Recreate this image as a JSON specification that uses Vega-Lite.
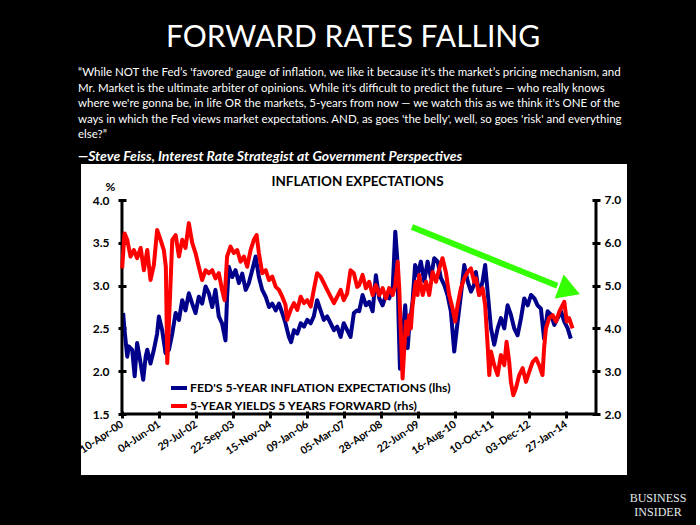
{
  "$schema": "https://vega.github.io/schema/vega-lite/v6.json",
  "background": "#000000",
  "padding": {"left": 77, "top": 23, "right": 10, "bottom": 10},
  "title": {"text": "FORWARD RATES FALLING", "anchor": "start", "dx": 88, "color": "#ffffff", "font": "Lato", "fontSize": 30, "fontWeight": "normal", "offset": 14, "baseline": "top"},
  "datasets": {
    "series": [
      {"d": "2000-04-23", "s": "fed", "v": 2.68}, {"d": "2000-05-09", "s": "fed", "v": 2.48}, {"d": "2000-06-09", "s": "fed", "v": 2.17}, {"d": "2000-06-27", "s": "fed", "v": 2.29},
      {"d": "2000-08-04", "s": "fed", "v": 2.25}, {"d": "2000-09-01", "s": "fed", "v": 1.94}, {"d": "2000-09-29", "s": "fed", "v": 2.33}, {"d": "2000-11-08", "s": "fed", "v": 2.09},
      {"d": "2000-12-07", "s": "fed", "v": 1.90}, {"d": "2001-01-04", "s": "fed", "v": 2.17}, {"d": "2001-01-22", "s": "fed", "v": 2.25}, {"d": "2001-02-28", "s": "fed", "v": 2.09},
      {"d": "2001-04-07", "s": "fed", "v": 2.25}, {"d": "2001-05-14", "s": "fed", "v": 2.44}, {"d": "2001-06-03", "s": "fed", "v": 2.64}, {"d": "2001-07-10", "s": "fed", "v": 2.48},
      {"d": "2001-08-18", "s": "fed", "v": 2.21}, {"d": "2001-09-25", "s": "fed", "v": 2.25}, {"d": "2001-11-02", "s": "fed", "v": 2.44}, {"d": "2001-12-10", "s": "fed", "v": 2.68},
      {"d": "2002-01-17", "s": "fed", "v": 2.60}, {"d": "2002-02-23", "s": "fed", "v": 2.83}, {"d": "2002-04-01", "s": "fed", "v": 2.71}, {"d": "2002-05-09", "s": "fed", "v": 2.91},
      {"d": "2002-06-16", "s": "fed", "v": 2.79}, {"d": "2002-07-24", "s": "fed", "v": 2.68}, {"d": "2002-08-30", "s": "fed", "v": 2.87}, {"d": "2002-10-07", "s": "fed", "v": 2.79},
      {"d": "2002-11-15", "s": "fed", "v": 2.99}, {"d": "2002-12-22", "s": "fed", "v": 2.91}, {"d": "2003-01-29", "s": "fed", "v": 2.75}, {"d": "2003-03-07", "s": "fed", "v": 2.95},
      {"d": "2003-04-14", "s": "fed", "v": 2.64}, {"d": "2003-05-21", "s": "fed", "v": 2.56}, {"d": "2003-06-29", "s": "fed", "v": 2.36}, {"d": "2003-07-17", "s": "fed", "v": 2.87},
      {"d": "2003-08-06", "s": "fed", "v": 3.22}, {"d": "2003-09-13", "s": "fed", "v": 3.10}, {"d": "2003-10-21", "s": "fed", "v": 3.18}, {"d": "2003-11-28", "s": "fed", "v": 3.03},
      {"d": "2004-01-05", "s": "fed", "v": 3.14}, {"d": "2004-02-13", "s": "fed", "v": 2.95}, {"d": "2004-03-20", "s": "fed", "v": 3.03}, {"d": "2004-04-27", "s": "fed", "v": 3.18},
      {"d": "2004-06-05", "s": "fed", "v": 3.34}, {"d": "2004-07-12", "s": "fed", "v": 3.10}, {"d": "2004-08-19", "s": "fed", "v": 2.95}, {"d": "2004-09-27", "s": "fed", "v": 2.87},
      {"d": "2004-11-04", "s": "fed", "v": 2.75}, {"d": "2004-12-11", "s": "fed", "v": 2.79}, {"d": "2005-01-19", "s": "fed", "v": 2.71}, {"d": "2005-02-25", "s": "fed", "v": 2.79},
      {"d": "2005-04-03", "s": "fed", "v": 2.68}, {"d": "2005-05-10", "s": "fed", "v": 2.56}, {"d": "2005-06-18", "s": "fed", "v": 2.40}, {"d": "2005-07-13", "s": "fed", "v": 2.34},
      {"d": "2005-08-14", "s": "fed", "v": 2.48}, {"d": "2005-09-21", "s": "fed", "v": 2.44}, {"d": "2005-10-29", "s": "fed", "v": 2.56}, {"d": "2005-12-06", "s": "fed", "v": 2.52},
      {"d": "2006-01-12", "s": "fed", "v": 2.60}, {"d": "2006-02-20", "s": "fed", "v": 2.56}, {"d": "2006-03-27", "s": "fed", "v": 2.64}, {"d": "2006-05-04", "s": "fed", "v": 2.83},
      {"d": "2006-06-12", "s": "fed", "v": 2.71}, {"d": "2006-07-19", "s": "fed", "v": 2.60}, {"d": "2006-08-26", "s": "fed", "v": 2.64}, {"d": "2006-10-04", "s": "fed", "v": 2.56},
      {"d": "2006-11-11", "s": "fed", "v": 2.48}, {"d": "2006-12-18", "s": "fed", "v": 2.52}, {"d": "2007-01-26", "s": "fed", "v": 2.40}, {"d": "2007-03-02", "s": "fed", "v": 2.56},
      {"d": "2007-04-10", "s": "fed", "v": 2.48}, {"d": "2007-05-18", "s": "fed", "v": 2.40}, {"d": "2007-06-25", "s": "fed", "v": 2.68}, {"d": "2007-08-01", "s": "fed", "v": 2.71},
      {"d": "2007-08-24", "s": "fed", "v": 2.70}, {"d": "2007-10-02", "s": "fed", "v": 2.89}, {"d": "2007-11-09", "s": "fed", "v": 2.77}, {"d": "2007-12-16", "s": "fed", "v": 2.81},
      {"d": "2008-01-24", "s": "fed", "v": 2.70}, {"d": "2008-03-01", "s": "fed", "v": 3.12}, {"d": "2008-04-08", "s": "fed", "v": 2.85}, {"d": "2008-05-16", "s": "fed", "v": 2.77},
      {"d": "2008-06-23", "s": "fed", "v": 2.89}, {"d": "2008-07-30", "s": "fed", "v": 2.85}, {"d": "2008-09-08", "s": "fed", "v": 2.97}, {"d": "2008-10-07", "s": "fed", "v": 3.63},
      {"d": "2008-10-29", "s": "fed", "v": 3.32}, {"d": "2008-11-14", "s": "fed", "v": 2.58}, {"d": "2008-11-29", "s": "fed", "v": 2.03}, {"d": "2008-12-29", "s": "fed", "v": 2.42},
      {"d": "2009-01-28", "s": "fed", "v": 2.77}, {"d": "2009-02-25", "s": "fed", "v": 2.27}, {"d": "2009-03-13", "s": "fed", "v": 2.50}, {"d": "2009-04-21", "s": "fed", "v": 2.81},
      {"d": "2009-05-20", "s": "fed", "v": 3.24}, {"d": "2009-06-17", "s": "fed", "v": 3.12}, {"d": "2009-07-24", "s": "fed", "v": 3.28}, {"d": "2009-09-01", "s": "fed", "v": 3.05},
      {"d": "2009-10-09", "s": "fed", "v": 3.28}, {"d": "2009-11-16", "s": "fed", "v": 3.09}, {"d": "2009-12-23", "s": "fed", "v": 3.32}, {"d": "2010-02-01", "s": "fed", "v": 3.28},
      {"d": "2010-03-08", "s": "fed", "v": 3.09}, {"d": "2010-04-15", "s": "fed", "v": 3.01}, {"d": "2010-05-23", "s": "fed", "v": 2.89}, {"d": "2010-06-30", "s": "fed", "v": 2.70},
      {"d": "2010-08-07", "s": "fed", "v": 2.23}, {"d": "2010-09-15", "s": "fed", "v": 2.58}, {"d": "2010-10-22", "s": "fed", "v": 2.89}, {"d": "2010-11-29", "s": "fed", "v": 3.24},
      {"d": "2011-01-07", "s": "fed", "v": 3.05}, {"d": "2011-02-13", "s": "fed", "v": 2.93}, {"d": "2011-03-21", "s": "fed", "v": 3.01}, {"d": "2011-04-10", "s": "fed", "v": 3.16},
      {"d": "2011-05-17", "s": "fed", "v": 2.89}, {"d": "2011-06-25", "s": "fed", "v": 3.05}, {"d": "2011-07-24", "s": "fed", "v": 3.24}, {"d": "2011-08-21", "s": "fed", "v": 2.93},
      {"d": "2011-09-28", "s": "fed", "v": 2.50}, {"d": "2011-11-04", "s": "fed", "v": 2.31}, {"d": "2011-12-13", "s": "fed", "v": 2.50}, {"d": "2012-01-19", "s": "fed", "v": 2.62},
      {"d": "2012-02-26", "s": "fed", "v": 2.50}, {"d": "2012-04-04", "s": "fed", "v": 2.77}, {"d": "2012-05-11", "s": "fed", "v": 2.66}, {"d": "2012-06-18", "s": "fed", "v": 2.50},
      {"d": "2012-07-26", "s": "fed", "v": 2.42}, {"d": "2012-09-03", "s": "fed", "v": 2.62}, {"d": "2012-10-10", "s": "fed", "v": 2.85}, {"d": "2012-11-18", "s": "fed", "v": 2.77},
      {"d": "2012-12-25", "s": "fed", "v": 2.89}, {"d": "2013-02-02", "s": "fed", "v": 2.85}, {"d": "2013-03-10", "s": "fed", "v": 2.77}, {"d": "2013-04-17", "s": "fed", "v": 2.73},
      {"d": "2013-05-23", "s": "fed", "v": 2.38}, {"d": "2013-07-02", "s": "fed", "v": 2.70}, {"d": "2013-08-09", "s": "fed", "v": 2.66}, {"d": "2013-09-16", "s": "fed", "v": 2.54},
      {"d": "2013-10-24", "s": "fed", "v": 2.62}, {"d": "2013-12-01", "s": "fed", "v": 2.70}, {"d": "2014-01-07", "s": "fed", "v": 2.58}, {"d": "2014-02-15", "s": "fed", "v": 2.50},
      {"d": "2014-03-22", "s": "fed", "v": 2.38},
      {"d": "2000-04-12", "s": "fwd", "v": 5.40}, {"d": "2000-05-09", "s": "fwd", "v": 6.22}, {"d": "2000-06-09", "s": "fwd", "v": 6.07}, {"d": "2000-07-16", "s": "fwd", "v": 5.68},
      {"d": "2000-08-23", "s": "fwd", "v": 5.83}, {"d": "2000-09-29", "s": "fwd", "v": 5.64}, {"d": "2000-11-08", "s": "fwd", "v": 5.88}, {"d": "2000-12-15", "s": "fwd", "v": 5.36},
      {"d": "2001-01-22", "s": "fwd", "v": 5.83}, {"d": "2001-02-28", "s": "fwd", "v": 5.13}, {"d": "2001-04-07", "s": "fwd", "v": 5.48}, {"d": "2001-05-14", "s": "fwd", "v": 6.30},
      {"d": "2001-06-22", "s": "fwd", "v": 6.07}, {"d": "2001-07-29", "s": "fwd", "v": 5.83}, {"d": "2001-08-21", "s": "fwd", "v": 5.44}, {"d": "2001-09-06", "s": "fwd", "v": 3.19},
      {"d": "2001-09-25", "s": "fwd", "v": 4.12}, {"d": "2001-11-02", "s": "fwd", "v": 6.07}, {"d": "2001-12-10", "s": "fwd", "v": 6.18}, {"d": "2002-01-17", "s": "fwd", "v": 5.68},
      {"d": "2002-02-23", "s": "fwd", "v": 6.07}, {"d": "2002-04-01", "s": "fwd", "v": 5.88}, {"d": "2002-05-09", "s": "fwd", "v": 6.46}, {"d": "2002-06-16", "s": "fwd", "v": 6.00},
      {"d": "2002-07-24", "s": "fwd", "v": 5.76}, {"d": "2002-08-30", "s": "fwd", "v": 5.44}, {"d": "2002-10-07", "s": "fwd", "v": 5.13}, {"d": "2002-11-15", "s": "fwd", "v": 5.36},
      {"d": "2002-12-22", "s": "fwd", "v": 5.29}, {"d": "2003-01-29", "s": "fwd", "v": 5.36}, {"d": "2003-03-07", "s": "fwd", "v": 5.17}, {"d": "2003-04-14", "s": "fwd", "v": 5.29},
      {"d": "2003-05-21", "s": "fwd", "v": 4.90}, {"d": "2003-06-18", "s": "fwd", "v": 4.66}, {"d": "2003-07-17", "s": "fwd", "v": 5.68}, {"d": "2003-08-25", "s": "fwd", "v": 5.91},
      {"d": "2003-10-02", "s": "fwd", "v": 5.76}, {"d": "2003-11-09", "s": "fwd", "v": 5.83}, {"d": "2003-12-17", "s": "fwd", "v": 5.56}, {"d": "2004-01-24", "s": "fwd", "v": 5.68},
      {"d": "2004-03-01", "s": "fwd", "v": 5.44}, {"d": "2004-04-09", "s": "fwd", "v": 5.83}, {"d": "2004-05-16", "s": "fwd", "v": 6.07}, {"d": "2004-06-16", "s": "fwd", "v": 6.18},
      {"d": "2004-07-12", "s": "fwd", "v": 5.76}, {"d": "2004-08-19", "s": "fwd", "v": 5.29}, {"d": "2004-09-27", "s": "fwd", "v": 5.36}, {"d": "2004-11-04", "s": "fwd", "v": 5.13},
      {"d": "2004-12-11", "s": "fwd", "v": 5.21}, {"d": "2005-01-19", "s": "fwd", "v": 4.97}, {"d": "2005-02-25", "s": "fwd", "v": 4.90}, {"d": "2005-04-03", "s": "fwd", "v": 4.74},
      {"d": "2005-05-10", "s": "fwd", "v": 4.55}, {"d": "2005-05-28", "s": "fwd", "v": 4.20}, {"d": "2005-07-07", "s": "fwd", "v": 4.43}, {"d": "2005-08-14", "s": "fwd", "v": 4.59},
      {"d": "2005-09-21", "s": "fwd", "v": 4.43}, {"d": "2005-10-29", "s": "fwd", "v": 4.74}, {"d": "2005-12-06", "s": "fwd", "v": 4.59}, {"d": "2006-01-12", "s": "fwd", "v": 4.66},
      {"d": "2006-02-20", "s": "fwd", "v": 4.51}, {"d": "2006-03-27", "s": "fwd", "v": 4.90}, {"d": "2006-05-04", "s": "fwd", "v": 5.29}, {"d": "2006-06-12", "s": "fwd", "v": 5.21},
      {"d": "2006-07-19", "s": "fwd", "v": 5.06}, {"d": "2006-08-26", "s": "fwd", "v": 4.90}, {"d": "2006-10-04", "s": "fwd", "v": 4.74}, {"d": "2006-11-11", "s": "fwd", "v": 4.59},
      {"d": "2006-12-18", "s": "fwd", "v": 4.74}, {"d": "2007-01-26", "s": "fwd", "v": 4.90}, {"d": "2007-03-02", "s": "fwd", "v": 4.66}, {"d": "2007-04-10", "s": "fwd", "v": 4.82},
      {"d": "2007-05-18", "s": "fwd", "v": 5.36}, {"d": "2007-06-25", "s": "fwd", "v": 5.29}, {"d": "2007-08-01", "s": "fwd", "v": 4.97}, {"d": "2007-08-24", "s": "fwd", "v": 5.01},
      {"d": "2007-10-02", "s": "fwd", "v": 5.25}, {"d": "2007-11-09", "s": "fwd", "v": 4.94}, {"d": "2007-12-16", "s": "fwd", "v": 5.09}, {"d": "2008-01-24", "s": "fwd", "v": 4.78},
      {"d": "2008-03-01", "s": "fwd", "v": 5.01}, {"d": "2008-04-08", "s": "fwd", "v": 4.78}, {"d": "2008-05-16", "s": "fwd", "v": 4.94}, {"d": "2008-06-23", "s": "fwd", "v": 4.70},
      {"d": "2008-07-30", "s": "fwd", "v": 4.94}, {"d": "2008-09-08", "s": "fwd", "v": 4.78}, {"d": "2008-10-07", "s": "fwd", "v": 5.01}, {"d": "2008-11-03", "s": "fwd", "v": 5.56},
      {"d": "2008-11-21", "s": "fwd", "v": 4.94}, {"d": "2008-12-10", "s": "fwd", "v": 3.85}, {"d": "2008-12-29", "s": "fwd", "v": 2.83}, {"d": "2009-01-17", "s": "fwd", "v": 3.54},
      {"d": "2009-02-06", "s": "fwd", "v": 4.16}, {"d": "2009-02-25", "s": "fwd", "v": 3.85}, {"d": "2009-03-13", "s": "fwd", "v": 4.31}, {"d": "2009-04-02", "s": "fwd", "v": 4.00},
      {"d": "2009-04-21", "s": "fwd", "v": 4.55}, {"d": "2009-05-28", "s": "fwd", "v": 5.09}, {"d": "2009-06-17", "s": "fwd", "v": 4.78}, {"d": "2009-07-05", "s": "fwd", "v": 5.25},
      {"d": "2009-08-14", "s": "fwd", "v": 4.78}, {"d": "2009-09-21", "s": "fwd", "v": 5.09}, {"d": "2009-10-27", "s": "fwd", "v": 4.78}, {"d": "2009-12-05", "s": "fwd", "v": 5.32},
      {"d": "2010-01-12", "s": "fwd", "v": 5.09}, {"d": "2010-02-19", "s": "fwd", "v": 5.40}, {"d": "2010-03-27", "s": "fwd", "v": 5.64}, {"d": "2010-05-04", "s": "fwd", "v": 5.32},
      {"d": "2010-06-11", "s": "fwd", "v": 4.78}, {"d": "2010-07-19", "s": "fwd", "v": 4.47}, {"d": "2010-08-18", "s": "fwd", "v": 4.16}, {"d": "2010-09-15", "s": "fwd", "v": 4.55},
      {"d": "2010-10-22", "s": "fwd", "v": 4.94}, {"d": "2010-11-29", "s": "fwd", "v": 5.17}, {"d": "2011-01-07", "s": "fwd", "v": 5.32}, {"d": "2011-02-13", "s": "fwd", "v": 5.40},
      {"d": "2011-03-21", "s": "fwd", "v": 5.09}, {"d": "2011-04-10", "s": "fwd", "v": 5.17}, {"d": "2011-05-17", "s": "fwd", "v": 4.78}, {"d": "2011-06-25", "s": "fwd", "v": 4.94},
      {"d": "2011-07-24", "s": "fwd", "v": 4.55}, {"d": "2011-08-21", "s": "fwd", "v": 3.61}, {"d": "2011-09-09", "s": "fwd", "v": 2.91}, {"d": "2011-09-28", "s": "fwd", "v": 3.46},
      {"d": "2011-11-04", "s": "fwd", "v": 3.14}, {"d": "2011-12-13", "s": "fwd", "v": 2.91}, {"d": "2012-01-19", "s": "fwd", "v": 3.38}, {"d": "2012-02-26", "s": "fwd", "v": 3.14},
      {"d": "2012-03-23", "s": "fwd", "v": 3.69}, {"d": "2012-04-22", "s": "fwd", "v": 3.22}, {"d": "2012-05-11", "s": "fwd", "v": 2.75}, {"d": "2012-06-07", "s": "fwd", "v": 2.44},
      {"d": "2012-07-07", "s": "fwd", "v": 2.60}, {"d": "2012-08-14", "s": "fwd", "v": 2.91}, {"d": "2012-09-22", "s": "fwd", "v": 3.07}, {"d": "2012-10-29", "s": "fwd", "v": 2.75},
      {"d": "2012-12-06", "s": "fwd", "v": 2.99}, {"d": "2013-01-14", "s": "fwd", "v": 3.22}, {"d": "2013-02-21", "s": "fwd", "v": 3.30}, {"d": "2013-03-28", "s": "fwd", "v": 3.14},
      {"d": "2013-05-05", "s": "fwd", "v": 2.91}, {"d": "2013-05-23", "s": "fwd", "v": 3.54}, {"d": "2013-06-13", "s": "fwd", "v": 4.00}, {"d": "2013-07-19", "s": "fwd", "v": 4.24},
      {"d": "2013-08-28", "s": "fwd", "v": 4.31}, {"d": "2013-10-05", "s": "fwd", "v": 4.16}, {"d": "2013-11-12", "s": "fwd", "v": 4.39}, {"d": "2013-12-20", "s": "fwd", "v": 4.55},
      {"d": "2014-01-07", "s": "fwd", "v": 4.62}, {"d": "2014-02-04", "s": "fwd", "v": 4.16}, {"d": "2014-03-03", "s": "fwd", "v": 4.24}, {"d": "2014-04-11", "s": "fwd", "v": 4.00}
    ]
  },
  "vconcat": [
    {
      "width": 546,
      "height": 311,
      "view": {"fill": "#ffffff", "stroke": null},
      "title": {
        "text": [
          "“While NOT the Fed’s 'favored' gauge of inflation, we like it because it's the market’s pricing mechanism, and",
          "Mr. Market is the ultimate arbiter of opinions. While it's difficult to predict the future — who really knows",
          "where we're gonna be, in life OR the markets, 5-years from now — we watch this as we think it's ONE of the",
          "ways in which the Fed views market expectations. AND, as goes 'the belly', well, so goes 'risk' and everything",
          "else?”"
        ],
        "subtitle": "—Steve Feiss, Interest Rate Strategist at Government Perspectives",
        "anchor": "start",
        "align": "left",
        "baseline": "top",
        "color": "#ffffff",
        "font": "Lato",
        "fontSize": 11.5,
        "fontWeight": "normal",
        "lineHeight": 15.6,
        "subtitleColor": "#ffffff",
        "subtitleFont": "Lato",
        "subtitleFontSize": 14,
        "subtitleFontStyle": "italic",
        "subtitleFontWeight": "bold",
        "subtitlePadding": 9,
        "offset": 0
      },
      "data": {"name": "series"},
      "resolve": {"scale": {"y": "independent"}},
      "layer": [
        {
          "layer": [
            {
              "transform": [{"filter": "datum.s == 'fed'"}],
              "mark": {"type": "line", "strokeWidth": 4, "strokeJoin": "round"},
              "encoding": {
                "x": {
                  "field": "d", "type": "temporal",
                  "scale": {"type": "utc", "nice": false, "domain": [{"year": 1999, "month": 1, "date": 1, "utc": true}, {"year": 2015, "month": 12, "date": 20, "utc": true}]},
                  "axis": {
                    "orient": "bottom", "offset": -64, "domain": false, "grid": false,
                    "values": [
                      {"year": 2000, "month": 4, "date": 10, "utc": true}, {"year": 2001, "month": 6, "date": 4, "utc": true},
                      {"year": 2002, "month": 7, "date": 29, "utc": true}, {"year": 2003, "month": 9, "date": 22, "utc": true},
                      {"year": 2004, "month": 11, "date": 15, "utc": true}, {"year": 2006, "month": 1, "date": 9, "utc": true},
                      {"year": 2007, "month": 3, "date": 5, "utc": true}, {"year": 2008, "month": 4, "date": 28, "utc": true},
                      {"year": 2009, "month": 6, "date": 22, "utc": true}, {"year": 2010, "month": 8, "date": 16, "utc": true},
                      {"year": 2011, "month": 10, "date": 10, "utc": true}, {"year": 2012, "month": 12, "date": 3, "utc": true},
                      {"year": 2014, "month": 1, "date": 27, "utc": true}
                    ],
                    "labelExpr": "utcFormat(datum.value, '%d-%b-%y')",
                    "ticks": true, "tickSize": 7, "tickWidth": 3, "tickColor": "#000000",
                    "labelAngle": -34, "labelAlign": "right", "labelBaseline": "middle", "labelPadding": 5,
                    "labelFont": "Lato", "labelFontSize": 10.6, "labelFontWeight": "bold", "labelColor": "#000000",
                    "labelOverlap": false, "labelFlush": false, "labelBound": false,
                    "title": "INFLATION EXPECTATIONS", "titleX": 276, "titleY": -226, "titleAlign": "center", "titleBaseline": "alphabetic",
                    "titleFont": "Lato", "titleFontSize": 13.5, "titleFontWeight": "bold", "titleColor": "#000000"
                  }
                },
                "y": {
                  "field": "v", "type": "quantitative",
                  "scale": {"domain": [0.7874, 4.4206], "nice": false, "zero": false},
                  "axis": {
                    "orient": "left", "offset": -45, "domain": false, "grid": false,
                    "values": [1.5, 2.0, 2.5, 3.0, 3.5, 4.0], "format": ".1f",
                    "tickSize": 8, "tickWidth": 3, "tickColor": "#000000",
                    "labelFont": "Lato", "labelFontSize": 12, "labelFontWeight": "bold", "labelColor": "#000000", "labelPadding": 9,
                    "labelFlush": false, "labelOverlap": false,
                    "title": "%", "titleAngle": 0, "titleX": -16, "titleY": 26, "titleAlign": "center", "titleBaseline": "alphabetic",
                    "titleFont": "Lato", "titleFontSize": 12, "titleFontWeight": "bold", "titleColor": "#000000"
                  }
                },
                "color": {
                  "field": "s", "type": "nominal",
                  "scale": {"domain": ["fed", "fwd"], "range": ["#00008b", "#ff0000"]},
                  "legend": {
                    "orient": "none", "legendX": 88, "legendY": 214, "title": null, "direction": "vertical",
                    "symbolType": "stroke", "symbolStrokeWidth": 4, "symbolSize": 256, "padding": 0, "rowPadding": 0, "labelOffset": 1,
                    "labelFont": "Lato", "labelFontSize": 12.2, "labelFontWeight": "bold", "labelColor": "#000000", "labelLimit": 0,
                    "labelExpr": "datum.label == 'fed' ? \"FED'S 5-YEAR INFLATION EXPECTATIONS (lhs)\" : '5-YEAR YIELDS 5 YEARS FORWARD (rhs)'"
                  }
                }
              }
            },
            {
              "data": {"values": [{}]},
              "mark": {"type": "rule", "strokeWidth": 3, "color": "#000000"},
              "encoding": {
                "x": {"datum": {"year": 2000, "month": 4, "date": 10, "utc": true}, "type": "temporal"},
                "y": {"datum": 1.5, "type": "quantitative"},
                "y2": {"datum": 4.0}
              }
            },
            {
              "data": {"values": [{}]},
              "mark": {"type": "rule", "strokeWidth": 3, "color": "#000000"},
              "encoding": {
                "x": {"datum": {"year": 2015, "month": 1, "date": 2, "utc": true}, "type": "temporal"},
                "y": {"datum": 1.5, "type": "quantitative"},
                "y2": {"datum": 4.0}
              }
            },
            {
              "data": {"values": [{}]},
              "mark": {"type": "rule", "strokeWidth": 3, "color": "#000000"},
              "encoding": {
                "x": {"datum": {"year": 2000, "month": 4, "date": 10, "utc": true}, "type": "temporal"},
                "x2": {"datum": {"year": 2015, "month": 1, "date": 2, "utc": true}},
                "y": {"datum": 1.5, "type": "quantitative"}
              }
            }
          ]
        },
        {
          "layer": [
            {
              "transform": [{"filter": "datum.s == 'fwd'"}],
              "mark": {"type": "line", "strokeWidth": 4, "strokeJoin": "round"},
              "encoding": {
                "x": {"field": "d", "type": "temporal"},
                "y": {
                  "field": "v", "type": "quantitative",
                  "scale": {"domain": [0.5748, 7.841], "nice": false, "zero": false},
                  "axis": {
                    "orient": "right", "offset": -35, "domain": false, "grid": false,
                    "values": [2, 3, 4, 5, 6, 7], "format": ".1f",
                    "tickSize": 8, "tickWidth": 3, "tickColor": "#000000",
                    "labelFont": "Lato", "labelFontSize": 12, "labelFontWeight": "bold", "labelColor": "#000000", "labelPadding": 4,
                    "labelFlush": false, "labelOverlap": false,
                    "title": ["BUSINESS", "INSIDER"], "titleAngle": 0, "titleX": 65.5, "titleY": 337, "titleAlign": "center", "titleBaseline": "alphabetic",
                    "titleFont": "Liberation Serif", "titleFontSize": 12, "titleFontWeight": "normal", "titleColor": "#e3eaec", "titleLineHeight": 14
                  }
                },
                "color": {"field": "s", "type": "nominal"}
              }
            },
            {
              "data": {"values": [{}]},
              "mark": {"type": "rule", "strokeWidth": 6, "color": "#33ff00", "strokeCap": "butt"},
              "encoding": {
                "x": {"datum": {"year": 2009, "month": 4, "date": 14, "utc": true}, "type": "temporal"},
                "x2": {"datum": {"year": 2013, "month": 10, "date": 20, "utc": true}},
                "y": {"datum": 6.369, "type": "quantitative"},
                "y2": {"datum": 4.995}
              }
            },
            {
              "data": {"values": [{}]},
              "mark": {"type": "point", "shape": "triangle-right", "filled": true, "color": "#33ff00", "opacity": 1, "size": 650, "angle": 20.5},
              "encoding": {
                "x": {"datum": {"year": 2014, "month": 3, "date": 8, "utc": true}, "type": "temporal"},
                "y": {"datum": 4.888, "type": "quantitative"}
              }
            }
          ]
        }
      ]
    }
  ],
  "config": {
    "view": {"stroke": null},
    "font": "Lato",
    "axis": {"grid": false}
  }
}
